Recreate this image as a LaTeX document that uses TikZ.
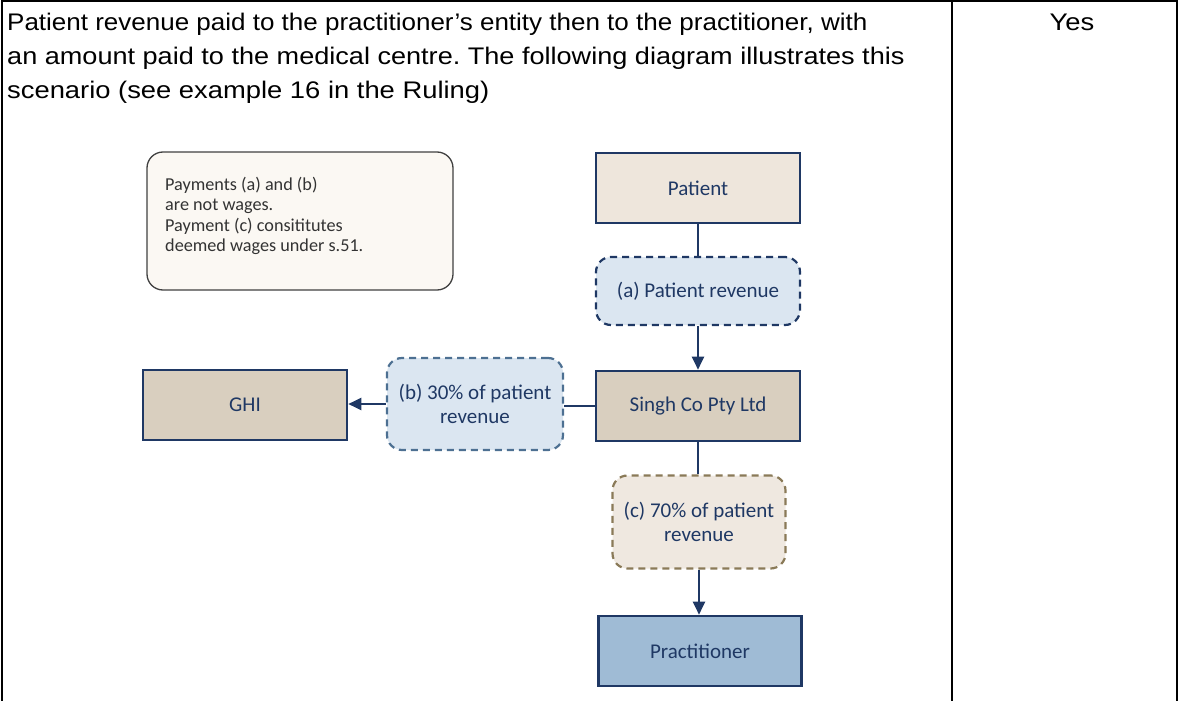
\documentclass[tikz,border=0pt]{standalone}
\usepackage{graphicx}
\usepackage{fontspec}
\setmainfont[FakeStretch=1.14]{Liberation Sans}
\newfontfamily\diafont{Carlito}
\usetikzlibrary{arrows.meta}
\definecolor{navy}{HTML}{1F3864}
\definecolor{steel}{HTML}{4D7092}
\definecolor{brownd}{HTML}{8A7A58}
\definecolor{cream}{HTML}{FBF8F3}
\definecolor{beige}{HTML}{EEE6DC}
\definecolor{tan}{HTML}{D9CFBF}
\definecolor{lblue}{HTML}{DBE6F1}
\definecolor{mblue}{HTML}{9FBBD5}
\definecolor{lbeige}{HTML}{EFE8E0}
\definecolor{notetext}{HTML}{333333}
\tikzset{
  solidbox/.style={draw=navy, line width=2.6pt, inner sep=0pt, text=navy,
    font=\diafont\fontsize{21}{24}\selectfont, align=center},
  dashbox/.style={line width=2.2pt, dash pattern=on 7pt off 5pt, rounded corners=15pt,
    inner sep=0pt, text=navy, font=\diafont\fontsize{21}{24}\selectfont, align=center},
  flow/.style={draw=navy, line width=2pt},
  flowarrow/.style={draw=navy, line width=2pt, -{Triangle[length=13pt,width=12pt]}},
  tableline/.style={draw=black, line width=2pt}
}
\begin{document}
\begin{tikzpicture}[x=1pt,y=-1pt]
\useasboundingbox (0,0) rectangle (1179,701);
% table
\draw[tableline] (2,1) -- (1178,1);
\draw[tableline] (2,0) -- (2,701);
\draw[tableline] (952,0) -- (952,701);
\draw[tableline] (1177,0) -- (1177,701);
\node[anchor=base west, inner sep=0pt, font=\fontsize{24}{34}\selectfont] (hdr) at (7,31)
  {\frenchspacing\renewcommand\arraystretch{1}\begin{tabular}[t]{@{}l@{}}
   \scalebox{0.95}[1]{Patient revenue paid to the practitioner’s entity then to the practitioner, with}\\
   \scalebox{0.99}[1]{an amount paid to the medical centre. The following diagram illustrates this}\\
   scenario (see example 16 in the Ruling)\end{tabular}};
\node[anchor=base, inner sep=0pt, font=\fontsize{24}{34}\selectfont] (yes) at (1072,31) {Yes};
% note
\node[draw=black!75, line width=1.3pt, fill=cream, rounded corners=16pt,
  minimum width=306pt, minimum height=138pt, inner sep=0pt] (note) at (300,221) {};
\node[anchor=base west, inner sep=0pt, text=notetext,
  font=\diafont\fontsize{18.2}{20.5}\selectfont] (notetxt) at (165,190)
  {\begin{tabular}[t]{@{}l@{}}Payments (a) and (b)\\are not wages.\\Payment (c) consititutes\\deemed wages under s.51.\end{tabular}};
% boxes
\node[solidbox, fill=beige, minimum width=204pt, minimum height=70pt] (patient) at (698,188) {Patient};
\node[dashbox, draw=navy, fill=lblue, minimum width=204pt, minimum height=68pt] (a) at (698,291) {(a) Patient revenue};
\node[solidbox, fill=tan, minimum width=204pt, minimum height=70pt] (singh) at (698,406) {Singh Co Pty Ltd};
\node[solidbox, fill=tan, minimum width=204pt, minimum height=70pt] (ghi) at (245,405) {GHI};
\node[dashbox, draw=steel, fill=lblue, minimum width=176pt, minimum height=92pt] (b) at (475,404) {(b) 30\% of patient\\revenue};
\node[dashbox, draw=brownd, fill=lbeige, minimum width=173pt, minimum height=93pt] (c) at (699,522) {(c) 70\% of patient\\revenue};
\node[solidbox, fill=mblue, minimum width=203pt, minimum height=70pt] (prac) at (700,651) {Practitioner};
% connectors
\draw[flow] (patient.south) -- (patient.south |- a.north);
\draw[flowarrow] (a.south) -- (a.south |- singh.north);
\draw[flow] (singh.west) -- (singh.west -| b.east);
\draw[flowarrow] (b.west) -- (b.west -| ghi.east);
\draw[flow] (singh.south) -- (singh.south |- c.north);
\draw[flowarrow] (c.south) -- (c.south |- prac.north);
\end{tikzpicture}
\end{document}
